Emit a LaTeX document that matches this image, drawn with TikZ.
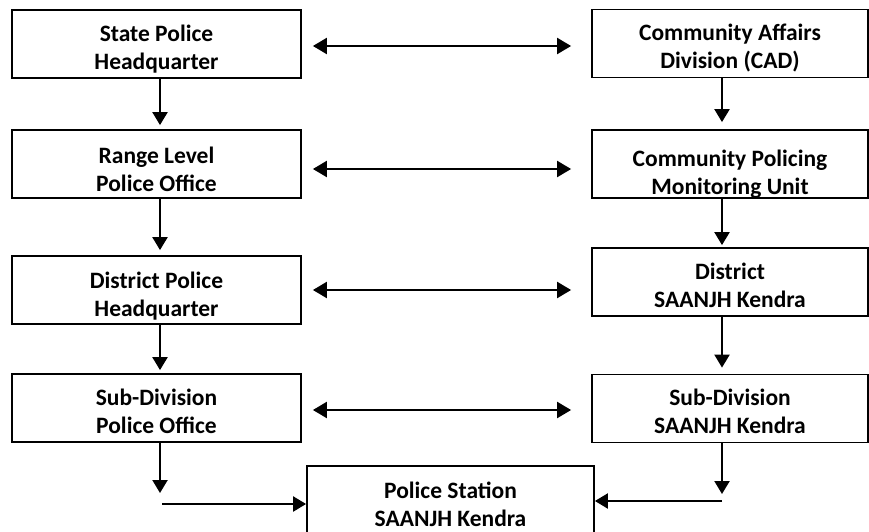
\documentclass[tikz,border=0pt]{standalone}
\usepackage{fontspec}
\setmainfont{Carlito}
\usetikzlibrary{arrows.meta}

\tikzset{
  box/.style={draw, line width=1.8pt, inner sep=0pt, minimum height=68pt},
  lbox/.style={box, minimum width=289pt},
  rbox/.style={box, minimum width=276pt},
  txt/.style={align=center, inner sep=0pt,
    font=\fontsize{23.5}{28}\selectfont\bfseries},
  arr/.style={line width=2.2pt, -{Triangle[length=13pt, width=15pt]}},
  darr/.style={line width=2.2pt, {Triangle[length=14pt, width=16pt]}-{Triangle[length=14pt, width=16pt]}}
}

\begin{document}
\begin{tikzpicture}[x=1pt, y=-1pt]
    \useasboundingbox (0,0) rectangle (869,532);

    % Police side
    \node[lbox, label={[txt, yshift=-5pt]center:State Police\\Headquarter}] (sphq) at (156.5,44) {};
    \node[lbox, label={[txt, yshift=-5pt]center:Range Level\\Police Office}] (range) at (156.5,164) {};
    \node[lbox, label={[txt, yshift=-6pt]center:District Police\\Headquarter}] (dphq) at (156.5,290) {};
    \node[lbox, label={[txt, yshift=-3pt]center:Sub-Division\\Police Office}] (subdiv) at (156.5,408) {};

    % Community side
    \node[rbox, label={[txt, yshift=-5pt]center:Community Affairs\\Division (CAD)}] (cad) at (730,43.5) {};
    \node[rbox, label={[txt, yshift=-10pt]center:Community Policing\\Monitoring Unit}] (cpmu) at (730,164) {};
    \node[rbox, label={[txt, yshift=-3pt]center:District\\SAANJH Kendra}] (dsk) at (730,282) {};
    \node[rbox, label={[txt, yshift=-3pt]center:Sub-Division\\SAANJH Kendra}] (sdsk) at (730,408.5) {};

    % Police station
    \node[box, minimum width=287pt, label={[txt, yshift=-4pt]center:Police Station\\SAANJH Kendra}] (station) at (450.5,500) {};

    % Links between both sides
    \draw[darr, shorten <=11pt, shorten >=20pt] ([yshift=-2pt]sphq.east) -- ([yshift=-2pt]sphq.east -| cad.west);
    \draw[darr, shorten <=11pt, shorten >=20pt] ([yshift=-5pt]range.east) -- ([yshift=-5pt]range.east -| cpmu.west);
    \draw[darr, shorten <=11pt, shorten >=20pt] (dphq.east) -- (dphq.east -| dsk.west);
    \draw[darr, shorten <=11pt, shorten >=20pt] ([yshift=-2pt]subdiv.east) -- ([yshift=-2pt]subdiv.east -| sdsk.west);

    % Downward flow
    \draw[arr, shorten >=4pt] ([xshift=3.5pt]sphq.south) -- ([xshift=3.5pt]range.north);
    \draw[arr, shorten >=5pt] ([xshift=3.5pt]range.south) -- ([xshift=3.5pt]dphq.north);
    \draw[arr, shorten >=3pt] ([xshift=3.5pt]dphq.south) -- ([xshift=3.5pt]subdiv.north);
    \draw[arr, shorten >=7pt] ([xshift=-8pt]cad.south) -- ([xshift=-8pt]cpmu.north);
    \draw[arr, shorten >=2pt] ([xshift=-8pt]cpmu.south) -- ([xshift=-8pt]dsk.north);
    \draw[arr, shorten >=6pt] ([xshift=-8pt]dsk.south) -- ([xshift=-8pt]sdsk.north);

    % Into the police station
    \coordinate (lturn) at (160,504);
    \coordinate (rturn) at (722,501);
    \draw[arr, shorten >=11pt] ([xshift=3.5pt]subdiv.south) -- (lturn);
    \draw[arr, shorten <=2pt] (lturn) -- (lturn -| station.west);
    \draw[arr, shorten >=7pt] ([xshift=-8pt]sdsk.south) -- (rturn);
    \draw[arr] (rturn) -- (rturn -| station.east);
\end{tikzpicture}
\end{document}
